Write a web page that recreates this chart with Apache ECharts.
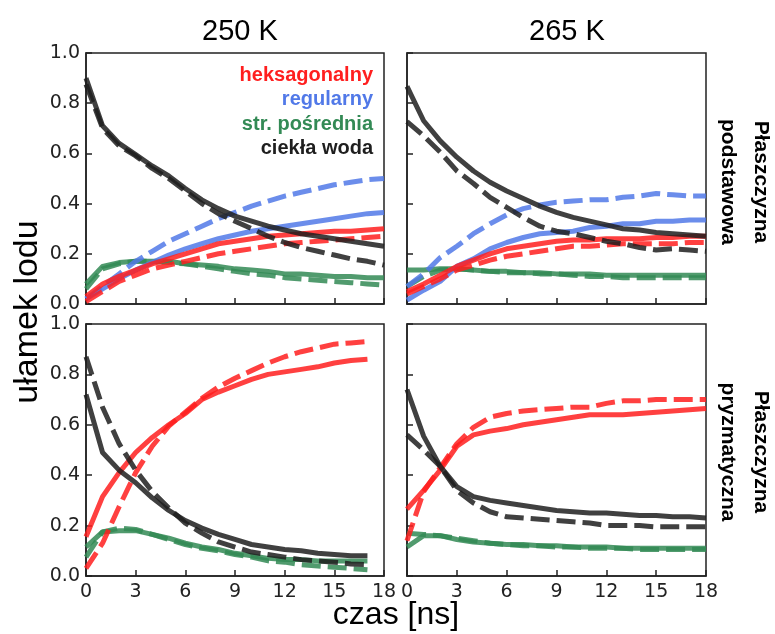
<!DOCTYPE html>
<html><head><meta charset="utf-8">
<script src="https://cdn.jsdelivr.net/npm/echarts@6/dist/echarts.min.js"></script>
<style>html,body{margin:0;padding:0;background:#fff}#c{width:775px;height:634px}</style>
</head><body><div id="c"></div>
<script>
// ---- data ----
const timeFull = [0,1,2,3,4,5,6,7,8,9,10,11,12,13,14,15,16,17,18];
const timeShort = [0,1,2,3,4,5,6,7,8,9,10,11,12,13,14,15,16,17];
const xTickValues = [0,3,6,9,12,15,18];
const yTickValues = [0,0.2,0.4,0.6,0.8,1.0];
const columnTitles = ['250 K','265 K'];
const rowTitles = ['Płaszczyzna\npodstawowa','Płaszczyzna\npryzmatyczna'];
const legendNames = ['heksagonalny','regularny','str. pośrednia','ciekła woda'];
const xAxisName = 'czas [ns]';
const yAxisName = 'ułamek lodu';

// 250 K, basal plane
const tlHexSolid = [0.03,0.08,0.11,0.135,0.16,0.18,0.20,0.22,0.24,0.25,0.26,0.27,0.275,0.28,0.285,0.29,0.29,0.295,0.30];
const tlHexDash  = [0.01,0.05,0.09,0.115,0.14,0.155,0.17,0.185,0.20,0.21,0.22,0.23,0.24,0.245,0.25,0.255,0.26,0.265,0.27];
const tlRegSolid = [0.02,0.06,0.10,0.135,0.165,0.195,0.22,0.24,0.26,0.275,0.29,0.30,0.31,0.32,0.33,0.34,0.35,0.36,0.365];
const tlRegDash  = [0.02,0.07,0.12,0.17,0.21,0.25,0.28,0.31,0.34,0.365,0.39,0.41,0.43,0.445,0.46,0.475,0.485,0.495,0.50];
const tlIntSolid = [0.08,0.15,0.165,0.17,0.17,0.17,0.16,0.155,0.15,0.14,0.135,0.13,0.12,0.12,0.115,0.11,0.11,0.105,0.105];
const tlIntDash  = [0.06,0.14,0.16,0.17,0.17,0.165,0.16,0.15,0.14,0.13,0.12,0.115,0.105,0.10,0.095,0.09,0.085,0.08,0.075];
const tlLiqSolid = [0.90,0.71,0.64,0.595,0.55,0.51,0.46,0.415,0.38,0.35,0.33,0.31,0.295,0.28,0.27,0.26,0.25,0.24,0.23];
const tlLiqDash  = [0.875,0.70,0.63,0.59,0.54,0.50,0.45,0.40,0.36,0.33,0.30,0.27,0.245,0.225,0.21,0.195,0.18,0.17,0.155];

// 265 K, basal plane
const trHexSolid = [0.05,0.08,0.115,0.15,0.175,0.20,0.22,0.23,0.24,0.25,0.255,0.255,0.26,0.26,0.26,0.265,0.265,0.27,0.27];
const trHexDash  = [0.04,0.07,0.10,0.135,0.155,0.175,0.19,0.20,0.21,0.22,0.23,0.23,0.235,0.24,0.24,0.24,0.24,0.245,0.245];
const trRegSolid = [0.015,0.055,0.09,0.15,0.18,0.22,0.245,0.265,0.28,0.285,0.29,0.305,0.31,0.32,0.32,0.33,0.33,0.335,0.335];
const trRegDash  = [0.07,0.12,0.185,0.23,0.28,0.32,0.355,0.38,0.395,0.405,0.41,0.415,0.415,0.425,0.43,0.44,0.435,0.43,0.43];
const trIntSolid = [0.135,0.135,0.14,0.14,0.135,0.13,0.13,0.125,0.125,0.12,0.12,0.12,0.115,0.115,0.115,0.115,0.115,0.115,0.115];
const trIntDash  = [0.07,0.11,0.135,0.14,0.135,0.13,0.125,0.125,0.12,0.12,0.115,0.11,0.11,0.105,0.105,0.105,0.105,0.105,0.105];
const trLiqSolid = [0.867,0.73,0.65,0.585,0.53,0.485,0.45,0.42,0.39,0.365,0.345,0.33,0.315,0.30,0.295,0.285,0.28,0.275,0.27];
const trLiqDash  = [0.727,0.67,0.605,0.53,0.48,0.425,0.385,0.345,0.31,0.29,0.28,0.265,0.25,0.24,0.225,0.215,0.22,0.215,0.21];

// 250 K, prismatic plane
const blHexSolid = [0.156,0.315,0.41,0.49,0.55,0.60,0.645,0.70,0.73,0.755,0.78,0.80,0.81,0.82,0.83,0.845,0.855,0.86];
const blHexDash  = [0.03,0.13,0.275,0.41,0.515,0.595,0.65,0.705,0.75,0.785,0.815,0.845,0.87,0.89,0.905,0.92,0.925,0.93];
const blIntSolid = [0.115,0.175,0.18,0.18,0.165,0.15,0.13,0.115,0.105,0.09,0.08,0.07,0.065,0.065,0.06,0.06,0.06,0.06];
const blIntDash  = [0.075,0.175,0.19,0.185,0.165,0.145,0.125,0.11,0.10,0.085,0.075,0.06,0.055,0.045,0.04,0.035,0.03,0.025];
const blLiqSolid = [0.72,0.49,0.42,0.37,0.31,0.26,0.22,0.19,0.165,0.145,0.125,0.115,0.105,0.10,0.09,0.085,0.08,0.08];
const blLiqDash  = [0.87,0.67,0.525,0.42,0.335,0.27,0.21,0.17,0.135,0.115,0.095,0.085,0.075,0.065,0.06,0.055,0.048,0.045];

// 265 K, prismatic plane
const brHexSolid = [0.265,0.34,0.42,0.515,0.56,0.575,0.585,0.60,0.61,0.62,0.63,0.64,0.64,0.64,0.645,0.65,0.655,0.66,0.665];
const brHexDash  = [0.14,0.335,0.43,0.525,0.59,0.63,0.645,0.655,0.66,0.665,0.67,0.67,0.685,0.695,0.695,0.70,0.70,0.70,0.70];
const brIntSolid = [0.115,0.16,0.16,0.145,0.135,0.13,0.125,0.125,0.12,0.12,0.115,0.115,0.115,0.11,0.11,0.11,0.11,0.11,0.11];
const brIntDash  = [0.17,0.165,0.16,0.15,0.14,0.13,0.125,0.12,0.12,0.115,0.115,0.11,0.11,0.11,0.105,0.105,0.105,0.105,0.105];
const brLiqSolid = [0.74,0.555,0.435,0.355,0.315,0.30,0.29,0.28,0.27,0.26,0.255,0.25,0.25,0.245,0.24,0.24,0.235,0.235,0.23];
const brLiqDash  = [0.56,0.50,0.435,0.34,0.29,0.255,0.235,0.23,0.225,0.22,0.215,0.21,0.20,0.20,0.20,0.195,0.195,0.195,0.195];

// ---- styles ----
const C = { hex:'#ff1f1f', reg:'#5179e8', int:'#338a55', liq:'#1e1e1e' };
const DASH = [19, 7];
const panels = [
  { t: timeFull, hex:[tlHexSolid,tlHexDash], reg:[tlRegSolid,tlRegDash], int:[tlIntSolid,tlIntDash], liq:[tlLiqSolid,tlLiqDash] },
  { t: timeFull, hex:[trHexSolid,trHexDash], reg:[trRegSolid,trRegDash], int:[trIntSolid,trIntDash], liq:[trLiqSolid,trLiqDash] },
  { t: timeShort, hex:[blHexSolid,blHexDash], int:[blIntSolid,blIntDash], liq:[blLiqSolid,blLiqDash] },
  { t: timeFull, hex:[brHexSolid,brHexDash], int:[brIntSolid,brIntDash], liq:[brLiqSolid,brLiqDash] }
];
const gridPos = [
  {left:86, top:53, width:298, height:251},
  {left:407, top:53, width:299, height:251},
  {left:86, top:324, width:298, height:252},
  {left:407, top:324, width:299, height:252}
];
const tickFont = 'DejaVu Sans';
const txtFont = 'Liberation Sans, Arial, sans-serif';

const grids = gridPos.map(g => Object.assign({show:true, borderColor:'#222', borderWidth:1.5, backgroundColor:'transparent', containLabel:false}, g));
const xAxes = gridPos.map((g,i) => ({
  type:'value', gridIndex:i, min:0, max:18, interval:3,
  axisLine:{show:true, onZero:false, lineStyle:{color:'#222', width:1.5}},
  axisTick:{show:true, inside:true, length:6, lineStyle:{color:'#222', width:1.5}},
  axisLabel:{show:i>=2, color:'#222', fontFamily:tickFont, fontSize:19, margin:7,
    formatter: v => xTickValues.includes(v) ? String(v) : ''},
  splitLine:{show:false}
}));
const yAxes = gridPos.map((g,i) => ({
  type:'value', gridIndex:i, min:0, max:1, interval:0.2,
  axisLine:{show:true, onZero:false, lineStyle:{color:'#222', width:1.5}},
  axisTick:{show:true, inside:true, length:6, lineStyle:{color:'#222', width:1.5}},
  axisLabel:{show:i%2===0, color:'#222', fontFamily:tickFont, fontSize:19, margin:6,
    formatter: v => yTickValues.some(t => Math.abs(t-v)<1e-9) ? v.toFixed(1) : ''},
  splitLine:{show:false}
}));

const series = [];
panels.forEach((p,i) => {
  ['int','reg','hex','liq'].forEach(k => {
    if (!p[k]) return;
    p[k].forEach((vals, j) => {
      series.push({
        type:'line', xAxisIndex:i, yAxisIndex:i, showSymbol:false, symbol:'none', silent:true,
        animation:false, smooth:false,
        data: vals.map((v, n) => [p.t[n], v]),
        lineStyle:{color:C[k], width:5, opacity:0.85, type: j===0 ? 'solid' : DASH, cap:'butt', join:'round'},
        z: 2
      });
    });
  });
});

const legendColors = [C.hex, C.reg, C.int, C.liq];
const graphics = [];
legendNames.forEach((n,i) => {
  graphics.push({type:'text', x:373, y:75 + i*24.5, silent:true,
    style:{text:n, fill:legendColors[i], font:'bold 20px ' + txtFont, textAlign:'right', textVerticalAlign:'middle', align:'right', verticalAlign:'middle'}});
});
columnTitles.forEach((t,i) => {
  graphics.push({type:'text', x: i===0 ? 240 : 567, y:32, silent:true,
    style:{text:t, fill:'#000', font:'29px ' + txtFont, textAlign:'center', textVerticalAlign:'middle', align:'center', verticalAlign:'middle'}});
});
rowTitles.forEach((t,i) => {
  graphics.push({type:'text', x:744, y: i===0 ? 182 : 452, rotation:-Math.PI/2, silent:true,
    style:{text:t, fill:'#000', font:'bold 21px ' + txtFont, lineHeight:33, textAlign:'center', textVerticalAlign:'middle', align:'center', verticalAlign:'middle'}});
});
graphics.push({type:'text', x:28, y:312, rotation:Math.PI/2, silent:true,
  style:{text:yAxisName, fill:'#000', font:'34px ' + txtFont, textAlign:'center', textVerticalAlign:'middle', align:'center', verticalAlign:'middle'}});
graphics.push({type:'text', x:396, y:615, silent:true,
  style:{text:xAxisName, fill:'#000', font:'32px ' + txtFont, textAlign:'center', textVerticalAlign:'middle', align:'center', verticalAlign:'middle'}});

const chart = echarts.init(document.getElementById('c'), null, {renderer:'canvas'});
chart.setOption({
  animation:false,
  backgroundColor:'#fff',
  grid: grids, xAxis: xAxes, yAxis: yAxes, series: series, graphic: graphics
});
</script></body></html>
